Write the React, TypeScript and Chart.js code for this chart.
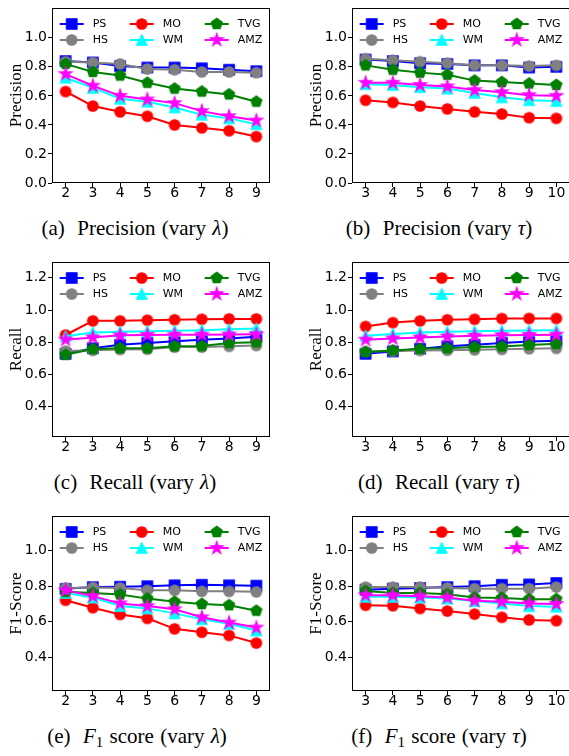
import React, { useEffect, useRef } from 'react';
import { Chart, registerables } from 'chart.js';

Chart.register(...registerables);

// ---------------- data ----------------
const LAMBDA = ['2', '3', '4', '5', '6', '7', '8', '9'];
const TAU = ['3', '4', '5', '6', '7', '8', '9', '10'];
const SERIES = ['PS', 'HS', 'MO', 'WM', 'TVG', 'AMZ'];

// Precision (vary lambda)
const PREC_L_PS = [0.84, 0.83, 0.805, 0.795, 0.795, 0.79, 0.78, 0.77];
const PREC_L_HS = [0.835, 0.83, 0.82, 0.785, 0.78, 0.765, 0.765, 0.76];
const PREC_L_MO = [0.63, 0.53, 0.49, 0.46, 0.40, 0.38, 0.36, 0.32];
const PREC_L_WM = [0.725, 0.655, 0.58, 0.56, 0.52, 0.47, 0.445, 0.405];
const PREC_L_TVG = [0.82, 0.765, 0.74, 0.69, 0.65, 0.63, 0.61, 0.56];
const PREC_L_AMZ = [0.75, 0.67, 0.60, 0.575, 0.55, 0.495, 0.46, 0.43];

// Precision (vary tau)
const PREC_T_PS = [0.85, 0.84, 0.825, 0.82, 0.81, 0.81, 0.795, 0.80];
const PREC_T_HS = [0.855, 0.845, 0.835, 0.825, 0.81, 0.81, 0.805, 0.81];
const PREC_T_MO = [0.57, 0.555, 0.53, 0.51, 0.49, 0.475, 0.45, 0.445];
const PREC_T_WM = [0.68, 0.675, 0.66, 0.65, 0.62, 0.59, 0.57, 0.565];
const PREC_T_TVG = [0.81, 0.78, 0.76, 0.745, 0.705, 0.695, 0.685, 0.675];
const PREC_T_AMZ = [0.69, 0.69, 0.675, 0.665, 0.64, 0.625, 0.605, 0.60];

// Recall (vary lambda)
const REC_L_PS = [0.728, 0.763, 0.784, 0.796, 0.806, 0.816, 0.824, 0.834];
const REC_L_HS = [0.745, 0.75, 0.755, 0.757, 0.77, 0.77, 0.775, 0.78];
const REC_L_MO = [0.845, 0.933, 0.933, 0.937, 0.94, 0.943, 0.945, 0.945];
const REC_L_WM = [0.837, 0.861, 0.865, 0.868, 0.871, 0.875, 0.88, 0.885];
const REC_L_TVG = [0.722, 0.758, 0.763, 0.763, 0.775, 0.776, 0.795, 0.80];
const REC_L_AMZ = [0.816, 0.83, 0.843, 0.845, 0.847, 0.847, 0.848, 0.849];

// Recall (vary tau)
const REC_T_PS = [0.728, 0.743, 0.76, 0.775, 0.784, 0.796, 0.804, 0.81];
const REC_T_HS = [0.743, 0.745, 0.749, 0.75, 0.753, 0.756, 0.76, 0.762];
const REC_T_MO = [0.898, 0.922, 0.933, 0.94, 0.943, 0.947, 0.948, 0.948];
const REC_T_WM = [0.84, 0.851, 0.861, 0.865, 0.869, 0.871, 0.873, 0.875];
const REC_T_TVG = [0.739, 0.749, 0.759, 0.763, 0.77, 0.774, 0.783, 0.79];
const REC_T_AMZ = [0.816, 0.824, 0.83, 0.836, 0.84, 0.844, 0.845, 0.847];

// F1 (vary lambda)
const F1_L_PS = [0.785, 0.795, 0.797, 0.80, 0.805, 0.808, 0.805, 0.803];
const F1_L_HS = [0.79, 0.793, 0.79, 0.777, 0.777, 0.771, 0.771, 0.768];
const F1_L_MO = [0.721, 0.679, 0.641, 0.619, 0.56, 0.541, 0.523, 0.48];
const F1_L_WM = [0.762, 0.736, 0.688, 0.675, 0.647, 0.614, 0.588, 0.55];
const F1_L_TVG = [0.768, 0.762, 0.753, 0.73, 0.712, 0.70, 0.693, 0.662];
const F1_L_AMZ = [0.777, 0.744, 0.703, 0.688, 0.67, 0.625, 0.595, 0.567];

// F1 (vary tau)
const F1_T_PS = [0.78, 0.786, 0.79, 0.795, 0.80, 0.808, 0.81, 0.818];
const F1_T_HS = [0.795, 0.795, 0.795, 0.79, 0.786, 0.786, 0.786, 0.795];
const F1_T_MO = [0.693, 0.69, 0.675, 0.66, 0.643, 0.625, 0.61, 0.606];
const F1_T_WM = [0.74, 0.74, 0.736, 0.73, 0.716, 0.703, 0.688, 0.684];
const F1_T_TVG = [0.773, 0.762, 0.762, 0.755, 0.736, 0.734, 0.727, 0.727];
const F1_T_AMZ = [0.749, 0.749, 0.744, 0.736, 0.718, 0.712, 0.703, 0.70];

const Y_TICKS_PREC = [0.0, 0.2, 0.4, 0.6, 0.8, 1.0];
const Y_TICKS_REC = [0.4, 0.6, 0.8, 1.0, 1.2];
const Y_TICKS_F1 = [0.4, 0.6, 0.8, 1.0];

// ---------------- styles ----------------
const COLORS = ['#0000ff', '#808080', '#ff0000', '#00ffff', '#008000', '#ff00ff'];
const SHAPES = ['square', 'circle', 'circle', 'triangle', 'pentagon', 'star'];
const MS = 10.5;
const TICK_FONT = { family: "'DejaVu Sans', sans-serif", size: 14, lineHeight: 1 };
const SERIF = "'Liberation Serif', 'Times New Roman', serif";

function makeMarker(shape: string, color: string): HTMLCanvasElement {
  const D = 20;
  const c = document.createElement('canvas');
  c.width = D;
  c.height = D;
  const ctx = c.getContext('2d')!;
  ctx.fillStyle = color;
  ctx.strokeStyle = color;
  ctx.lineWidth = 1.2;
  const cx = D / 2;
  const cy = D / 2;
  const s = MS / 2;
  ctx.beginPath();
  if (shape === 'square') {
    ctx.rect(cx - s, cy - s, 2 * s, 2 * s);
  } else if (shape === 'circle') {
    ctx.arc(cx, cy, s, 0, Math.PI * 2);
  } else if (shape === 'triangle') {
    ctx.moveTo(cx, cy - s);
    ctx.lineTo(cx - s, cy + s);
    ctx.lineTo(cx + s, cy + s);
    ctx.closePath();
  } else if (shape === 'pentagon') {
    const R = s * 1.1;
    for (let i = 0; i < 5; i++) {
      const a = -Math.PI / 2 + (i * 2 * Math.PI) / 5;
      const px = cx + R * Math.cos(a);
      const py = cy + R * Math.sin(a);
      if (i === 0) ctx.moveTo(px, py);
      else ctx.lineTo(px, py);
    }
    ctx.closePath();
  } else if (shape === 'star') {
    const R = s * 1.25;
    const r = R * 0.381966;
    for (let i = 0; i < 10; i++) {
      const a = -Math.PI / 2 + (i * Math.PI) / 5;
      const rr = i % 2 === 0 ? R : r;
      const px = cx + rr * Math.cos(a);
      const py = cy + rr * Math.sin(a);
      if (i === 0) ctx.moveTo(px, py);
      else ctx.lineTo(px, py);
    }
    ctx.closePath();
  }
  ctx.fill();
  ctx.stroke();
  return c;
}

const LEGEND_COL_X = [19.7, 89.7, 164.7];
const LEGEND_ROW_Y = [16, 32];

function makeFramePlugin() {
  return {
    id: 'frameBox',
    afterDatasetsDraw(chart: any) {
      const { ctx, chartArea } = chart;
      const l = Math.round(chartArea.left) + 0.5;
      const t = Math.round(chartArea.top) + 0.5;
      const r = Math.round(chartArea.right) - 0.5;
      const b = Math.round(chartArea.bottom) - 0.5;
      ctx.save();
      ctx.strokeStyle = '#000';
      ctx.lineWidth = 1;
      ctx.strokeRect(l, t, r - l, b - t);
      ctx.restore();
    },
  };
}

function makeLegendPlugin(markers: HTMLCanvasElement[]) {
  return {
    id: 'inLegend',
    afterDraw(chart: any) {
      const { ctx, chartArea } = chart;
      ctx.save();
      SERIES.forEach((name, i) => {
        const col = Math.floor(i / 2);
        const row = i % 2;
        const x = chartArea.left + LEGEND_COL_X[col];
        const y = chartArea.top + LEGEND_ROW_Y[row];
        ctx.strokeStyle = COLORS[i];
        ctx.lineWidth = 2;
        ctx.beginPath();
        ctx.moveTo(x - 12, y);
        ctx.lineTo(x + 12, y);
        ctx.stroke();
        const m = markers[i];
        ctx.drawImage(m, x - m.width / 2, y - m.height / 2);
        ctx.fillStyle = '#000';
        ctx.font = "11px 'DejaVu Sans', sans-serif";
        ctx.textBaseline = 'middle';
        ctx.textAlign = 'left';
        ctx.fillText(name, x + 21, y + 0.5);
      });
      ctx.restore();
    },
  };
}

type PanelProps = {
  left: number;
  top: number;
  labels: string[];
  series: number[][];
  yMin: number;
  yMax: number;
  yTicks: number[];
  yTitle: string;
};

function Panel(p: PanelProps) {
  const ref = useRef<HTMLCanvasElement | null>(null);
  useEffect(() => {
    if (!ref.current) return;
    const markers = SERIES.map((_, i) => makeMarker(SHAPES[i], COLORS[i]));
    const gridCfg = {
      display: true,
      drawOnChartArea: false,
      drawTicks: true,
      tickLength: 4,
      color: '#000',
      lineWidth: 1,
    };
    const chart = new Chart(ref.current, {
      type: 'line',
      data: {
        labels: p.labels,
        datasets: SERIES.map((name, i) => ({
          label: name,
          data: p.series[i],
          borderColor: COLORS[i],
          backgroundColor: COLORS[i],
          borderWidth: 2,
          pointStyle: markers[i] as any,
          pointRadius: 5,
          pointHoverRadius: 5,
          tension: 0,
          fill: false,
          order: SERIES.length - 1 - i,
        })),
      },
      options: {
        animation: false,
        responsive: false,
        maintainAspectRatio: false,
        events: [],
        layout: { padding: { left: 0, top: 5, right: 15, bottom: 0 } },
        plugins: {
          legend: { display: false },
          tooltip: { enabled: false },
          title: { display: false },
        },
        scales: {
          x: {
            type: 'category',
            offset: true,
            grid: gridCfg as any,
            border: { display: false },
            ticks: {
              color: '#000',
              font: TICK_FONT as any,
              padding: -1,
              maxRotation: 0,
              autoSkip: false,
            },
            afterFit: (s: any) => {
              s.height = 17;
            },
          },
          y: {
            type: 'linear',
            min: p.yMin,
            max: p.yMax,
            afterBuildTicks: (s: any) => {
              s.ticks = p.yTicks.map((v) => ({ value: v }));
            },
            grid: gridCfg as any,
            border: { display: false },
            ticks: {
              color: '#000',
              font: TICK_FONT as any,
              padding: 1,
              callback: (v: any) => Number(v).toFixed(1),
            },
            title: {
              display: true,
              text: p.yTitle,
              color: '#000',
              font: { family: SERIF, size: 17 },
              padding: { top: 6, bottom: 0 },
            },
            afterFit: (s: any) => {
              s.width = 52;
            },
          },
        },
      },
      plugins: [makeFramePlugin(), makeLegendPlugin(markers)],
    });
    return () => chart.destroy();
  }, []);
  return (
    <canvas
      ref={ref}
      width={285}
      height={200}
      style={{ position: 'absolute', left: p.left, top: p.top, width: 285, height: 200 }}
    />
  );
}

function Caption({ cx, baseline, children }: { cx: number; baseline: number; children: any }) {
  return (
    <div
      style={{
        position: 'absolute',
        left: cx - 200,
        width: 400,
        top: baseline - 20,
        textAlign: 'center',
        fontFamily: SERIF,
        fontSize: 21,
        lineHeight: '25px',
        wordSpacing: 1,
        whiteSpace: 'nowrap',
        color: '#000',
      }}
    >
      {children}
    </div>
  );
}

const F1 = () => (
  <span>
    <i>F</i>
    <span style={{ fontSize: 15, position: 'relative', top: 4 }}>1</span>
  </span>
);

export default function App() {
  const panels: PanelProps[] = [
    {
      left: 0, top: 0, labels: LAMBDA,
      series: [PREC_L_PS, PREC_L_HS, PREC_L_MO, PREC_L_WM, PREC_L_TVG, PREC_L_AMZ],
      yMin: 0, yMax: 1.205, yTicks: Y_TICKS_PREC, yTitle: 'Precision',
    },
    {
      left: 300, top: 0, labels: TAU,
      series: [PREC_T_PS, PREC_T_HS, PREC_T_MO, PREC_T_WM, PREC_T_TVG, PREC_T_AMZ],
      yMin: 0, yMax: 1.205, yTicks: Y_TICKS_PREC, yTitle: 'Precision',
    },
    {
      left: 0, top: 254, labels: LAMBDA,
      series: [REC_L_PS, REC_L_HS, REC_L_MO, REC_L_WM, REC_L_TVG, REC_L_AMZ],
      yMin: 0.212, yMax: 1.298, yTicks: Y_TICKS_REC, yTitle: 'Recall',
    },
    {
      left: 300, top: 254, labels: TAU,
      series: [REC_T_PS, REC_T_HS, REC_T_MO, REC_T_WM, REC_T_TVG, REC_T_AMZ],
      yMin: 0.212, yMax: 1.298, yTicks: Y_TICKS_REC, yTitle: 'Recall',
    },
    {
      left: 0, top: 508, labels: LAMBDA,
      series: [F1_L_PS, F1_L_HS, F1_L_MO, F1_L_WM, F1_L_TVG, F1_L_AMZ],
      yMin: 0.21, yMax: 1.195, yTicks: Y_TICKS_F1, yTitle: 'F1-Score',
    },
    {
      left: 300, top: 508, labels: TAU,
      series: [F1_T_PS, F1_T_HS, F1_T_MO, F1_T_WM, F1_T_TVG, F1_T_AMZ],
      yMin: 0.21, yMax: 1.195, yTicks: Y_TICKS_F1, yTitle: 'F1-Score',
    },
  ];
  return (
    <div
      style={{
        position: 'fixed',
        left: 0,
        top: 0,
        width: 569,
        height: 756,
        overflow: 'hidden',
        background: '#fff',
      }}
    >
      {panels.map((p, i) => (
        <Panel key={i} {...p} />
      ))}
      <Caption cx={135} baseline={236}>(a)&nbsp; Precision (vary <i>λ</i>)</Caption>
      <Caption cx={439} baseline={236}>(b)&nbsp; Precision (vary <i>τ</i>)</Caption>
      <Caption cx={135} baseline={490}>(c)&nbsp; Recall (vary <i>λ</i>)</Caption>
      <Caption cx={439} baseline={490}>(d)&nbsp; Recall (vary <i>τ</i>)</Caption>
      <Caption cx={137} baseline={744}>(e)&nbsp; <F1 /> score (vary <i>λ</i>)</Caption>
      <Caption cx={439} baseline={744}>(f)&nbsp; <F1 /> score (vary <i>τ</i>)</Caption>
    </div>
  );
}
